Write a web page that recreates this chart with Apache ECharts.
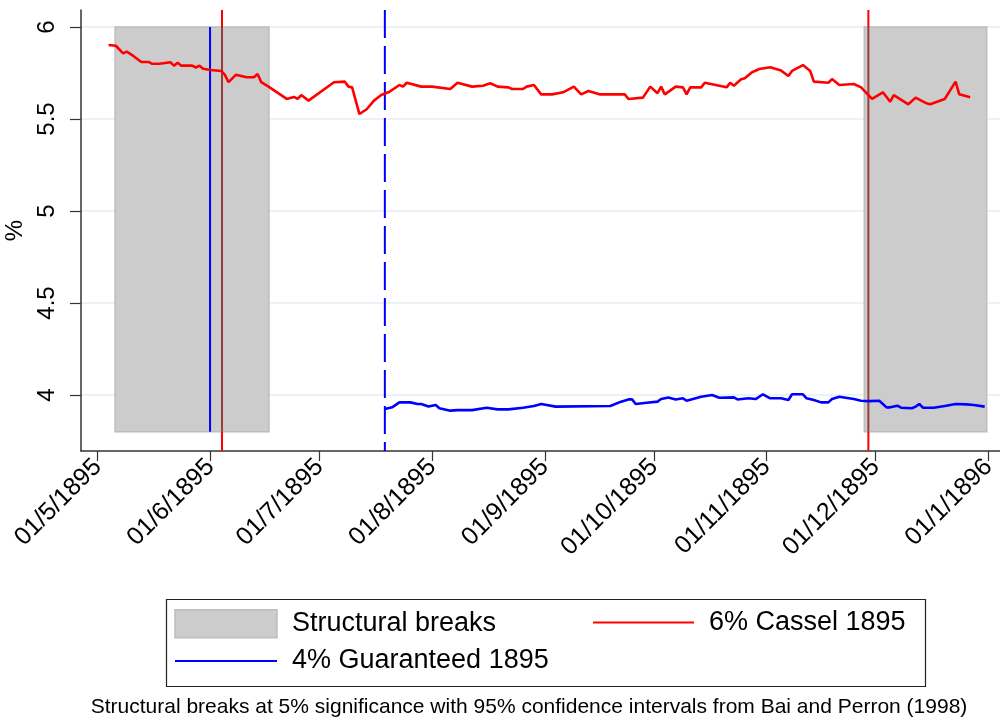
<!DOCTYPE html>
<html><head><meta charset="utf-8">
<script src="https://cdn.jsdelivr.net/npm/echarts@6/dist/echarts.min.js"></script>
<style>html,body{margin:0;padding:0;background:#fff}#c{width:1000px;height:722px}</style>
</head><body><div id="c"></div>
<script>
// ---------- data ----------
const tickDates = ['1895-05-01','1895-06-01','1895-07-01','1895-08-01','1895-09-01','1895-10-01','1895-11-01','1895-12-01','1896-01-01'];
const tickLabels = ['01/5/1895','01/6/1895','01/7/1895','01/8/1895','01/9/1895','01/10/1895','01/11/1895','01/12/1895','01/1/1896'];
const yTicks = [4, 4.5, 5, 5.5, 6];
const xRange = ['1895-04-26 10:00', '1896-01-04 05:00'];
const yRange = [3.6957, 6.0924];

const redName = '6% Cassel 1895';
const redDates = ['1895-05-04','1895-05-06','1895-05-08','1895-05-09','1895-05-11','1895-05-13','1895-05-15','1895-05-16','1895-05-18','1895-05-21','1895-05-22','1895-05-23','1895-05-24','1895-05-27','1895-05-28','1895-05-29','1895-05-30','1895-06-01','1895-06-04','1895-06-05','1895-06-06','1895-06-08','1895-06-11','1895-06-13','1895-06-14','1895-06-15','1895-06-17','1895-06-22','1895-06-24','1895-06-25','1895-06-26','1895-06-28','1895-07-05','1895-07-08','1895-07-09','1895-07-10','1895-07-12','1895-07-14','1895-07-16','1895-07-18','1895-07-20','1895-07-23','1895-07-24','1895-07-25','1895-07-29','1895-08-01','1895-08-06','1895-08-08','1895-08-12','1895-08-15','1895-08-17','1895-08-19','1895-08-22','1895-08-23','1895-08-26','1895-08-27','1895-08-29','1895-08-31','1895-09-03','1895-09-06','1895-09-09','1895-09-11','1895-09-13','1895-09-16','1895-09-23','1895-09-24','1895-09-28','1895-09-30','1895-10-02','1895-10-03','1895-10-04','1895-10-07','1895-10-09','1895-10-10','1895-10-11','1895-10-14','1895-10-15','1895-10-18','1895-10-21','1895-10-22','1895-10-23','1895-10-25','1895-10-26','1895-10-28','1895-10-30','1895-11-02','1895-11-05','1895-11-07','1895-11-08','1895-11-11','1895-11-13','1895-11-14','1895-11-18','1895-11-19','1895-11-21','1895-11-25','1895-11-27','1895-11-30','1895-12-03','1895-12-05','1895-12-06','1895-12-10','1895-12-12','1895-12-15','1895-12-16','1895-12-20','1895-12-23','1895-12-24','1895-12-27'];
const redValues = [5.902,5.898,5.857,5.866,5.840,5.810,5.810,5.800,5.800,5.808,5.790,5.806,5.790,5.790,5.780,5.790,5.773,5.766,5.761,5.740,5.700,5.740,5.727,5.727,5.745,5.700,5.676,5.609,5.620,5.609,5.630,5.600,5.700,5.703,5.676,5.672,5.527,5.553,5.600,5.630,5.645,5.685,5.676,5.697,5.676,5.676,5.663,5.697,5.676,5.681,5.694,5.676,5.672,5.663,5.663,5.676,5.685,5.634,5.634,5.645,5.676,5.634,5.652,5.634,5.634,5.609,5.616,5.676,5.640,5.676,5.634,5.676,5.672,5.634,5.672,5.672,5.697,5.685,5.672,5.697,5.681,5.716,5.721,5.754,5.772,5.781,5.763,5.734,5.761,5.793,5.761,5.703,5.697,5.717,5.685,5.690,5.672,5.609,5.645,5.594,5.630,5.580,5.616,5.585,5.580,5.609,5.703,5.634,5.618];

const blueName = '4% Guaranteed 1895';
const blueDates = ['1895-07-19','1895-07-21','1895-07-23','1895-07-26','1895-07-28','1895-07-29','1895-07-31','1895-08-02','1895-08-03','1895-08-06','1895-08-08','1895-08-12','1895-08-16','1895-08-19','1895-08-22','1895-08-26','1895-08-29','1895-08-31','1895-09-04','1895-09-19','1895-09-22','1895-09-24','1895-09-25','1895-09-26','1895-09-29','1895-10-02','1895-10-03','1895-10-05','1895-10-07','1895-10-09','1895-10-10','1895-10-14','1895-10-17','1895-10-19','1895-10-23','1895-10-24','1895-10-27','1895-10-29','1895-10-31','1895-11-02','1895-11-05','1895-11-07','1895-11-08','1895-11-11','1895-11-12','1895-11-14','1895-11-16','1895-11-18','1895-11-19','1895-11-21','1895-11-25','1895-11-27','1895-11-29','1895-12-02','1895-12-04','1895-12-05','1895-12-07','1895-12-08','1895-12-11','1895-12-12','1895-12-13','1895-12-14','1895-12-17','1895-12-20','1895-12-23','1895-12-26','1895-12-28','1895-12-31'];
const blueValues = [3.924,3.933,3.960,3.960,3.951,3.951,3.937,3.946,3.928,3.915,3.918,3.918,3.931,3.922,3.922,3.931,3.940,3.951,3.937,3.940,3.964,3.976,3.976,3.951,3.958,3.964,3.978,3.987,3.976,3.982,3.969,3.991,4.000,3.985,3.987,3.976,3.982,3.978,4.004,3.982,3.982,3.973,4.004,4.004,3.982,3.973,3.960,3.960,3.978,3.991,3.978,3.969,3.967,3.969,3.933,3.933,3.942,3.931,3.928,3.937,3.951,3.931,3.931,3.940,3.951,3.949,3.946,3.937];

const breakName = 'Structural breaks';
const breakStarts = ['1895-05-05 19:00', '1895-11-27 21:00'];
const breakEnds = ['1895-06-17 03:00', '1895-12-31 13:00'];
const breakBand = [3.8, 6];
const redBreakDates = ['1895-06-04 05:00', '1895-11-29 00:00'];
const blueBreakDates = ['1895-05-31 22:00'];
const blueDashedDates = ['1895-07-19 00:00'];
const caption = 'Structural breaks at 5% significance with 95% confidence intervals from Bai and Perron (1998)';

// ---------- helpers ----------
function t(s) {
  const parts = s.split(' ');
  const d = parts[0].split('-').map(Number);
  const h = parts[1] ? Number(parts[1].split(':')[0]) : 0;
  return Date.UTC(d[0], d[1] - 1, d[2], h);
}
const tickTimes = tickDates.map(t);
const FONT = 'Liberation Sans, Arial, sans-serif';
const AX = '#333333';

const chart = echarts.init(document.getElementById('c'), null, {renderer: 'canvas'});

function vline(x, y0, y1, style) {
  return {type: 'line', shape: {x1: x, y1: y0, x2: x, y2: y1}, style: style};
}
const legendText = {fontSize: 27, fontFamily: FONT, color: '#000', padding: [0, 0, 0, 10]};

const option = {
  animation: false,
  backgroundColor: '#ffffff',
  grid: {left: 81, right: 0, top: 10, bottom: 271, containLabel: false, outerBoundsMode: 'none'},
  legend: [{
    left: 174, top: 609, padding: 0, orient: 'vertical', itemWidth: 102, itemHeight: 28, itemGap: 9,
    selectedMode: false, textStyle: legendText,
    data: [
      {name: breakName, icon: 'rect', itemStyle: {color: '#cccccc', borderColor: '#bdbdbd', borderWidth: 1.5}},
      {name: blueName, itemStyle: {opacity: 0}}
    ]
  }, {
    left: 592, top: 609, padding: 0, orient: 'vertical', itemWidth: 101, itemHeight: 28, itemGap: 9,
    selectedMode: false, textStyle: legendText,
    data: [{name: redName, itemStyle: {opacity: 0}}]
  }],
  graphic: [
    {type: 'rect', left: 164, top: 597, shape: {width: 759, height: 87},
     style: {fill: 'none', stroke: '#222', lineWidth: 1.2}, silent: true},
    {type: 'text', x: 529, y: 707, style: {text: caption, font: '21px ' + FONT, fill: '#000', textAlign: 'center', textVerticalAlign: 'middle'}, silent: true}
  ],
  xAxis: {
    type: 'value', min: t(xRange[0]), max: t(xRange[1]),
    axisLine: {show: true, onZero: false, lineStyle: {color: AX, width: 1.5}},
    axisTick: {show: true, customValues: tickTimes, length: 10, lineStyle: {color: AX, width: 1.2}},
    axisLabel: {
      customValues: tickTimes, rotate: 45, fontSize: 25, fontFamily: FONT, color: '#000', margin: 12,
      formatter: function (v) {
        let best = 0;
        for (let i = 1; i < tickTimes.length; i++) if (Math.abs(tickTimes[i] - v) < Math.abs(tickTimes[best] - v)) best = i;
        return tickLabels[best];
      }
    },
    splitLine: {show: false}
  },
  yAxis: {
    type: 'value', min: yRange[0], max: yRange[1],
    name: '%', nameLocation: 'middle', nameGap: 48, nameRotate: 90,
    nameTextStyle: {fontSize: 24, fontFamily: FONT, color: '#000'},
    axisLine: {show: true, lineStyle: {color: AX, width: 1.5}},
    axisTick: {show: true, customValues: yTicks, length: 11, lineStyle: {color: AX, width: 1.2}},
    axisLabel: {customValues: yTicks, rotate: 90, fontSize: 24, fontFamily: FONT, color: '#000', margin: 22,
      formatter: function (v) { return String(v); }},
    splitLine: {show: true, lineStyle: {color: '#eaf2f3', width: 2}}
  },
  series: [
    {
      name: breakName, type: 'custom', z: 2, silent: true,
      itemStyle: {color: '#cccccc'},
      encode: {x: [0, 1], y: [2, 3]},
      data: breakStarts.map((s, i) => [t(s), t(breakEnds[i]), breakBand[0], breakBand[1]]),
      renderItem: function (params, api) {
        const p0 = api.coord([api.value(0), api.value(3)]);
        const p1 = api.coord([api.value(1), api.value(2)]);
        return {type: 'rect', shape: {x: p0[0], y: p0[1], width: p1[0] - p0[0], height: p1[1] - p0[1]},
          style: {fill: '#cccccc', stroke: '#bdbdbd', lineWidth: 1.5}};
      }
    },
    {
      name: 'red breaks', type: 'custom', z: 3, silent: true,
      encode: {x: 0, y: 1},
      data: redBreakDates.map(s => [t(s), breakBand[1]]),
      renderItem: function (params, api) {
        const cs = params.coordSys;
        const tv = api.value(0);
        const a = api.coord([tv, breakBand[1]]);
        const b = api.coord([tv, breakBand[0]]);
        let inBand = false;
        for (let i = 0; i < breakStarts.length; i++) if (tv >= t(breakStarts[i]) && tv <= t(breakEnds[i])) inBand = true;
        const red = {stroke: '#ff0000', lineWidth: 2};
        return {type: 'group', children: [
          vline(a[0], cs.y, a[1], red),
          vline(a[0], a[1], b[1], {stroke: inBand ? '#9c3a3a' : '#ff0000', lineWidth: 2}),
          vline(a[0], b[1], cs.y + cs.height, red)
        ]};
      }
    },
    {
      name: 'blue breaks', type: 'custom', z: 3, silent: true,
      encode: {x: 0, y: 1},
      data: blueBreakDates.map(s => [t(s), breakBand[1]]),
      renderItem: function (params, api) {
        const tv = api.value(0);
        const a = api.coord([tv, breakBand[1]]);
        const b = api.coord([tv, breakBand[0]]);
        return vline(a[0], a[1], b[1], {stroke: '#0000ff', lineWidth: 2});
      }
    },
    {
      name: 'blue dashed breaks', type: 'custom', z: 3, silent: true,
      encode: {x: 0, y: 1},
      data: blueDashedDates.map(s => [t(s), breakBand[1]]),
      renderItem: function (params, api) {
        const cs = params.coordSys;
        const x = api.coord([api.value(0), breakBand[1]])[0];
        return vline(x, cs.y, cs.y + cs.height, {stroke: '#0000ff', lineWidth: 2, lineDash: [28, 8]});
      }
    },
    {
      name: redName, type: 'line', z: 4, showSymbol: false, symbol: 'none', silent: true,
      color: '#ff0000', lineStyle: {color: '#ff0000', width: 2.6},
      data: redDates.map((d, i) => [t(d), redValues[i]])
    },
    {
      name: blueName, type: 'line', z: 4, showSymbol: false, symbol: 'none', silent: true,
      color: '#0000ff', lineStyle: {color: '#0000ff', width: 2.6},
      data: blueDates.map((d, i) => [t(d), blueValues[i]])
    }
  ]
};
chart.setOption(option);
</script>
</body></html>
